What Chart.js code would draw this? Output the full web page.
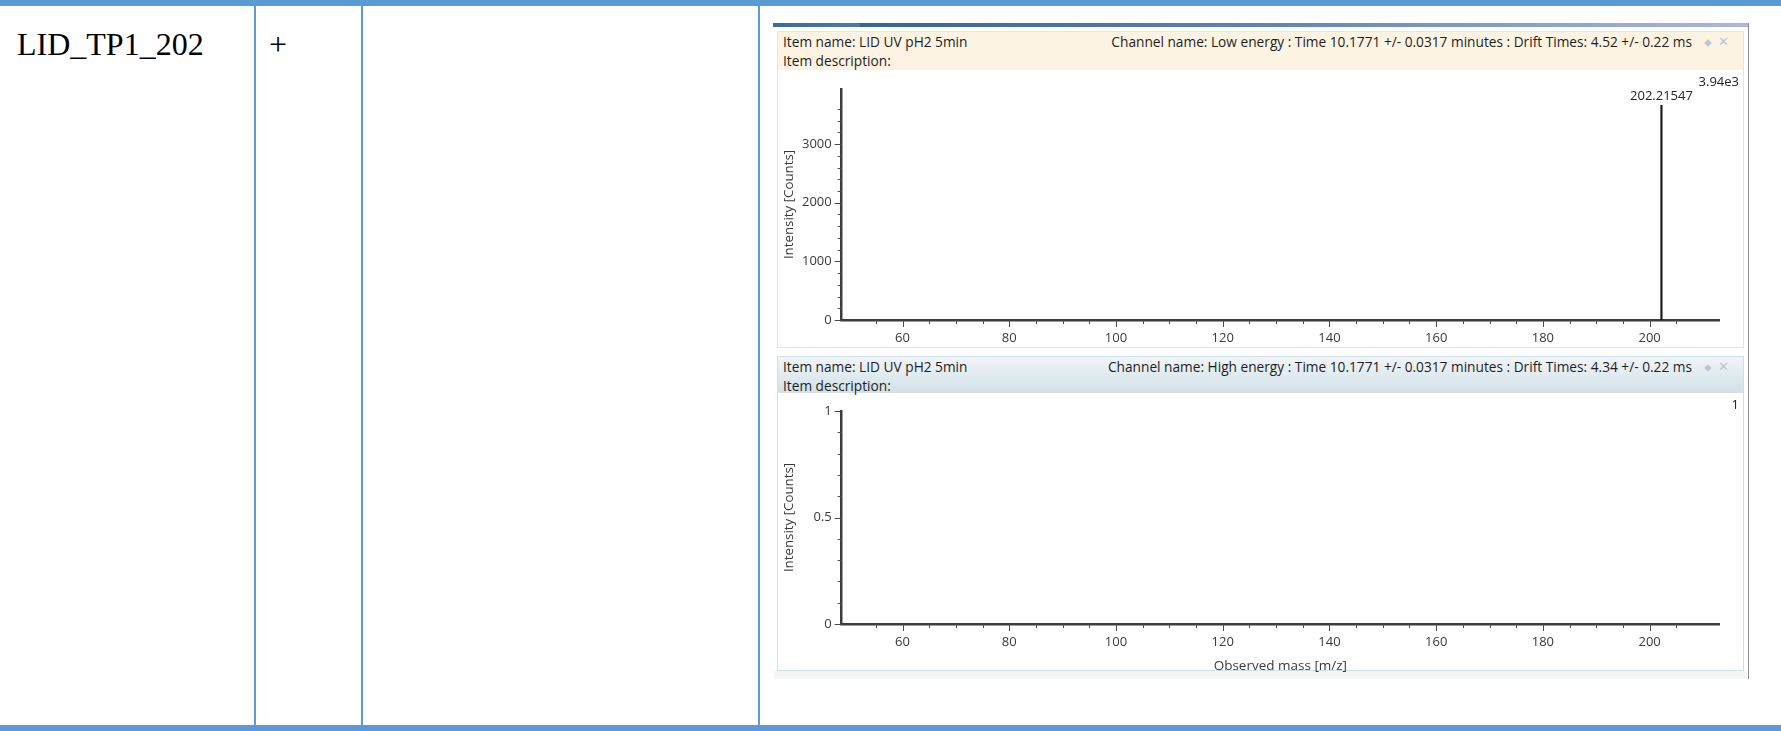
<!DOCTYPE html>
<html><head><meta charset="utf-8">
<script src="https://cdn.jsdelivr.net/npm/chart.js@4.4.1/dist/chart.umd.min.js"></script>
<style>
html,body{margin:0;padding:0;background:#fff;width:1781px;height:731px;overflow:hidden;position:relative;font-family:"Open Sans",sans-serif;}
.abs{position:absolute;}
.tb{position:absolute;background:#5B9BD5;}
.hdr{position:absolute;left:0;width:100%;font-size:13.7px;color:#1e1e1e;white-space:nowrap;}
.hdr span{position:absolute;line-height:16px;}
canvas{position:absolute;}
</style></head><body>
<!-- table frame -->
<div class="tb" style="left:0;top:0;width:1781px;height:6px"></div>
<div class="tb" style="left:0;top:725px;width:1781px;height:6px"></div>
<div class="tb" style="left:254px;top:6px;width:2px;height:719px"></div>
<div class="tb" style="left:361px;top:6px;width:2px;height:719px"></div>
<div class="tb" style="left:758px;top:6px;width:2px;height:719px"></div>
<div class="abs" id="cpdName" style="left:17px;top:28px;font:32px 'Liberation Serif',serif;line-height:32px;color:#000"></div>
<div class="abs" id="cpdMode" style="left:269px;top:28px;font:32px 'Liberation Serif',serif;line-height:32px;color:#000"></div>

<!-- viewer frame -->
<div class="abs" style="left:773px;top:23px;width:975px;height:4px;background:linear-gradient(to right,#2d5b98,#5f82bd 50%,#aab8e2)"></div>
<div class="abs" style="left:773px;top:23px;width:87px;height:4px;background:linear-gradient(to right,#3b69a8,#4d78b4);border-radius:0 3px 0 0"></div>
<div class="abs" style="left:1748px;top:23px;width:1px;height:656px;background:#8c8c8c"></div>
<div class="abs" style="left:774px;top:671px;width:973px;height:8px;background:#f3f5f6"></div>

<!-- panel 1 -->
<div class="abs" style="left:777px;top:31px;width:965px;height:315px;border:1px solid #f3e4c6;background:#fff"></div>
<div class="abs" style="left:778px;top:32px;width:965px;height:38px;background:#fcf3e3">
  <div class="hdr"><span id="p1name" style="left:5px;top:2px"></span><span id="p1desc" style="left:5px;top:21px"></span>
  <span id="p1chan" style="right:51px;top:2px"></span>
  <span style="right:31px;top:2px;color:#b9c6d3;font-size:11px">&#x2B25;</span>
  <span style="right:14px;top:1px;color:#b9c6d3;font-size:13px">&#x2715;</span></div>
</div>

<!-- panel 2 -->
<div class="abs" style="left:777px;top:356px;width:965px;height:313px;border:1px solid #cde0e8;background:#fff"></div>
<div class="abs" style="left:778px;top:357px;width:965px;height:36px;background:linear-gradient(to bottom,#f0f5f8,#d2e1e7)">
  <div class="hdr"><span id="p2name" style="left:5px;top:2px"></span><span id="p2desc" style="left:5px;top:21px"></span>
  <span id="p2chan" style="right:51px;top:2px"></span>
  <span style="right:31px;top:2px;color:#b9c6d3;font-size:11px">&#x2B25;</span>
  <span style="right:14px;top:1px;color:#b9c6d3;font-size:13px">&#x2715;</span></div>
</div>

<canvas id="c1" width="965" height="277" style="left:778px;top:70px"></canvas>
<canvas id="c2" width="965" height="282" style="left:778px;top:393px"></canvas>

<script>
// ---- text ----
const compoundName = "LID_TP1_202";
const ionMode = "+";
const itemName = "Item name: LID UV pH2 5min";
const itemDescription = "Item description:";
const channelLow = "Channel name: Low energy : Time 10.1771 +/- 0.0317 minutes : Drift Times: 4.52 +/- 0.22 ms";
const channelHigh = "Channel name: High energy : Time 10.1771 +/- 0.0317 minutes : Drift Times: 4.34 +/- 0.22 ms";
const yTitle = "Intensity [Counts]";
const xTitle = "Observed mass [m/z]";

// ---- data ----
const lowEnergyMz = [202.21547];
const lowEnergyIntensity = [3660];
const highEnergyMz = [];
const highEnergyIntensity = [];
const lowEnergyMaxLabel = "3.94e3";
const highEnergyMaxLabel = "1";
const xRange = [48.6, 213];
const lowEnergyYRange = [0, 3940];
const highEnergyYRange = [0, 1];
const xMajorStep = 20, xMinorStep = 5;
const lowYMajorStep = 1000, lowYMinorStep = 200;
const highYMajorStep = 0.5, highYMinorStep = 0.1;

document.getElementById('cpdName').textContent = compoundName;
document.getElementById('cpdMode').textContent = ionMode;
document.getElementById('p1name').textContent = itemName;
document.getElementById('p2name').textContent = itemName;
document.getElementById('p1desc').textContent = itemDescription;
document.getElementById('p2desc').textContent = itemDescription;
document.getElementById('p1chan').textContent = channelLow;
document.getElementById('p2chan').textContent = channelHigh;

const FONT = "'Open Sans', sans-serif";
const TXT = '#3a3a3a';
const isMult = (v, s) => Math.abs(v / s - Math.round(v / s)) < 1e-6;

const tickMarks = {
  id: 'tickMarks',
  afterDraw(chart) {
    const ctx = chart.ctx, a = chart.chartArea;
    const xs = chart.scales.x, ys = chart.scales.y;
    ctx.save();
    ctx.strokeStyle = '#4a4a4a';
    ctx.lineWidth = 1;
    xs.ticks.forEach(t => {
      const px = Math.round(xs.getPixelForValue(t.value)) + 0.5;
      const len = t.label !== '' ? 7 : 4;
      ctx.beginPath(); ctx.moveTo(px, a.bottom); ctx.lineTo(px, a.bottom + len); ctx.stroke();
    });
    ys.ticks.forEach(t => {
      const py = Math.round(ys.getPixelForValue(t.value)) + 0.5;
      const len = t.label !== '' ? 7 : 4;
      ctx.beginPath(); ctx.moveTo(a.left, py); ctx.lineTo(a.left - len, py); ctx.stroke();
    });
    // corner max-intensity label
    const o = chart.options.plugins.tickMarks;
    ctx.fillStyle = '#222';
    ctx.font = "13px " + FONT;
    ctx.textAlign = 'right'; ctx.textBaseline = 'middle';
    ctx.fillText(o.maxLabel, chart.width - 4, 12);
    // peak labels
    const ds = chart.data.datasets[0];
    ds.data.forEach(p => {
      const px = xs.getPixelForValue(p.x), py = ys.getPixelForValue(p.y);
      ctx.textAlign = 'center'; ctx.textBaseline = 'bottom';
      ctx.fillText(p.x.toFixed(5), px, py - 3);
    });
    ctx.restore();
  }
};

function makeChart(id, mz, inten, yRange, yMajor, yMinor, maxLabel, showXTitle, topPad, xAxisH) {
  const pts = mz.map((m, i) => ({x: m, y: inten[i]}));
  return new Chart(document.getElementById(id), {
    type: 'bar',
    data: { datasets: [{ data: pts, backgroundColor: '#1a1a1a', borderWidth: 0, barThickness: 1.5 }] },
    options: {
      responsive: false, animation: false,
      layout: { padding: { top: topPad, right: 24, left: 0, bottom: 0 } },
      plugins: { legend: { display: false }, tooltip: { enabled: false }, tickMarks: { maxLabel } },
      scales: {
        x: {
          type: 'linear', min: xRange[0], max: xRange[1], offset: false,
          grid: { display: false, drawTicks: false, offset: false },
          border: { display: true, color: '#3c3c3c', width: 2.5 },
          ticks: { stepSize: xMinorStep, autoSkip: false, maxRotation: 0, padding: 10,
            color: TXT, font: { family: FONT, size: 13 },
            callback: v => isMult(v, xMajorStep) ? String(Math.round(v)) : '' },
          afterBuildTicks: s => { s.ticks = s.ticks.filter(t => isMult(t.value, xMinorStep)); },
          afterFit: s => { s.height = xAxisH; },
          title: { display: showXTitle, text: xTitle, color: TXT, font: { family: FONT, size: 13.5, lineHeight: 1 }, padding: { top: 0, bottom: 2.25 } }
        },
        y: {
          min: yRange[0], max: yRange[1],
          grid: { display: false, drawTicks: false },
          border: { display: true, color: '#3c3c3c', width: 2.5 },
          ticks: { stepSize: yMinor, autoSkip: false, padding: 10, color: TXT, font: { family: FONT, size: 13 },
            callback: v => isMult(v, yMajor) ? String(+v.toFixed(1)) : '' },
          afterBuildTicks: s => { s.ticks = s.ticks.filter(t => isMult(t.value, yMinor)); },
          afterFit: s => { s.width = 63.7; },
          title: { display: true, text: yTitle, color: TXT, font: { family: FONT, size: 13.3 }, padding: { top: 3, bottom: 0 } }
        }
      }
    },
    plugins: [tickMarks]
  });
}

makeChart('c1', lowEnergyMz, lowEnergyIntensity, lowEnergyYRange, lowYMajorStep, lowYMinorStep, lowEnergyMaxLabel, false, 19, 27);
makeChart('c2', highEnergyMz, highEnergyIntensity, highEnergyYRange, highYMajorStep, highYMinorStep, highEnergyMaxLabel, true, 18, 51);
</script>
</body></html>
